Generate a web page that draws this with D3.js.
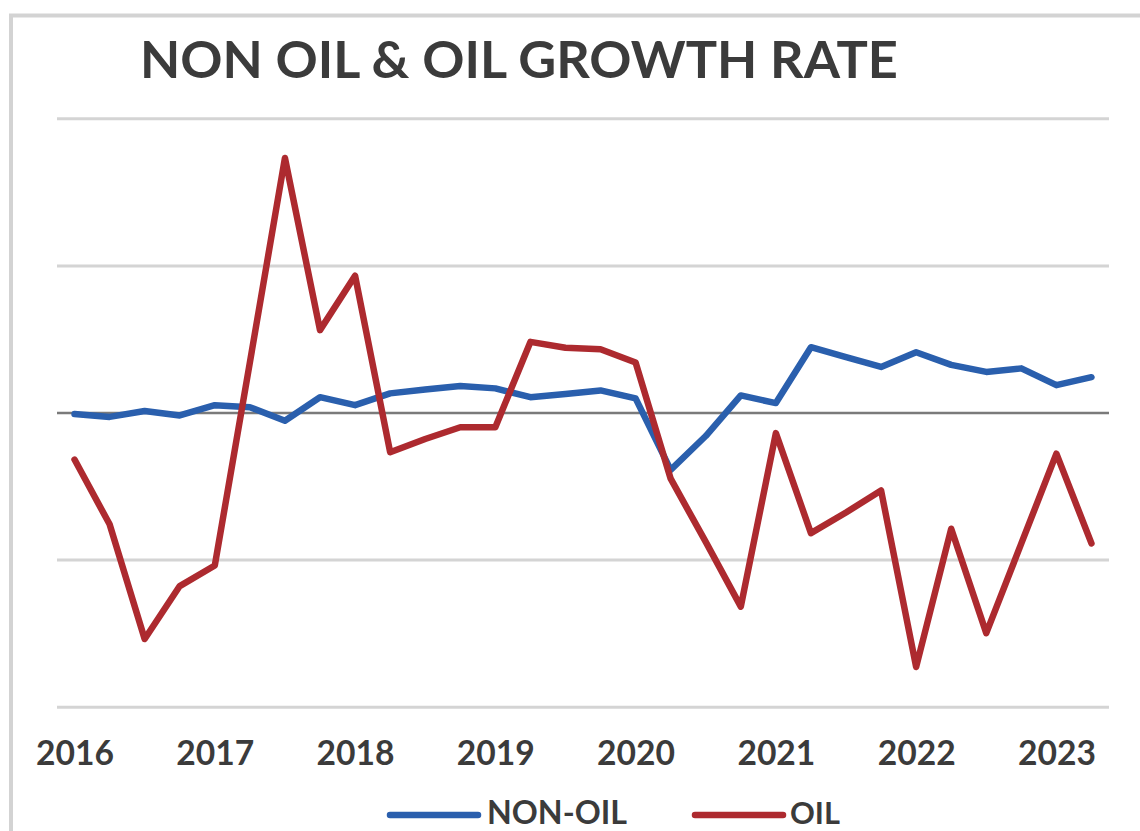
<!DOCTYPE html>
<html>
<head>
<meta charset="utf-8">
<script src="https://cdn.jsdelivr.net/npm/d3@7"></script>
<style>
  html, body { margin: 0; padding: 0; background: #ffffff; }
  svg { display: block; }
</style>
</head>
<body>
<svg id="chart" width="1140" height="831"></svg>
<script>
// Quarterly periods, 2016 Q1 to 2023 Q2
const quarters = [
  "2016Q1","2016Q2","2016Q3","2016Q4",
  "2017Q1","2017Q2","2017Q3","2017Q4",
  "2018Q1","2018Q2","2018Q3","2018Q4",
  "2019Q1","2019Q2","2019Q3","2019Q4",
  "2020Q1","2020Q2","2020Q3","2020Q4",
  "2021Q1","2021Q2","2021Q3","2021Q4",
  "2022Q1","2022Q2","2022Q3","2022Q4",
  "2023Q1","2023Q2"
];

// Year-on-year growth, %
const nonOil = [
  -0.05, -0.15, 0.05, -0.10,
   0.25,  0.18, -0.28, 0.52,
   0.25,  0.65,  0.78, 0.90,
   0.82,  0.52,  0.63, 0.75,
   0.48, -1.95, -0.80, 0.58,
   0.32,  2.22,  1.88, 1.55,
   2.05,  1.62,  1.38, 1.50,
   0.93,  1.20
];

const oil = [
  -1.60, -3.80, -7.70, -5.90,
  -5.20,  1.70,  8.65,  2.80,
   4.65, -1.35, -0.90, -0.50,
  -0.50,  2.40,  2.20,  2.15,
   1.70, -2.25, -4.40, -6.60,
  -0.70, -4.10, -3.40, -2.65,
  -8.65, -3.95, -7.50, -4.45,
  -1.40, -4.45
];

const yearLabels = ["2016","2017","2018","2019","2020","2021","2022","2023"];
const gridValues = [-10, -5, 0, 5, 10];

const seriesNames = ["NON-OIL", "OIL"];
const seriesColors = ["#2a5fad", "#ad2a2f"];

const svg = d3.select("#chart");
const W = 1140, H = 831;
const plot = { left: 57, right: 1109, top: 118.3, bottom: 706.7 };
const textColor = "#3b3b3b";
const fontFamily = "Lato, 'Open Sans', sans-serif";

// Fit a text element's font size so its rendered width equals targetWidth
function fitWidth(sel, targetWidth) {
  const node = sel.node();
  const size = parseFloat(sel.attr("font-size"));
  const w = node.getComputedTextLength();
  sel.attr("font-size", size * targetWidth / w);
}

svg.append("rect").attr("width", W).attr("height", H).attr("fill", "#ffffff");

// Chart frame
svg.append("path")
  .attr("d", `M11,${H} L11,15.5 L${W},15.5`)
  .attr("fill", "none")
  .attr("stroke", "#d3d3d3")
  .attr("stroke-width", 4);

// Title
const title = svg.append("text")
  .attr("x", 140).attr("y", 78)
  .attr("font-family", fontFamily)
  .attr("font-weight", 700)
  .attr("font-size", 50)
  .attr("fill", textColor)
  .text("NON OIL & OIL GROWTH RATE");
fitWidth(title, 758);

// Scales
const x = d3.scalePoint()
  .domain(quarters)
  .range([plot.left, plot.right])
  .padding(0.5);

const y = d3.scaleLinear()
  .domain([-10, 10])
  .range([plot.bottom, plot.top]);

// Horizontal gridlines
const grid = svg.append("g")
  .attr("transform", `translate(${plot.left},0)`)
  .call(d3.axisLeft(y)
    .tickValues(gridValues)
    .tickSize(-(plot.right - plot.left))
    .tickFormat(""));
grid.select(".domain").remove();
grid.selectAll(".tick line")
  .attr("stroke", d => d === 0 ? "#7a7a7a" : "#d4d4d4")
  .attr("stroke-width", d => d === 0 ? 2.5 : 3);

// Category axis: one label per year at the first quarter
const xAxis = svg.append("g")
  .attr("transform", `translate(0,${plot.bottom})`)
  .call(d3.axisBottom(x)
    .tickValues(quarters.filter(q => q.endsWith("Q1")))
    .tickSize(0)
    .tickPadding(0)
    .tickFormat(q => yearLabels[yearLabels.indexOf(q.slice(0, 4))]));
xAxis.select(".domain").remove();
xAxis.selectAll(".tick text")
  .attr("y", 58)
  .attr("dy", null)
  .attr("font-family", fontFamily)
  .attr("font-weight", 700)
  .attr("font-size", 34)
  .attr("fill", textColor);
xAxis.selectAll(".tick text").each(function() { fitWidth(d3.select(this), 78); });

// Series lines
const line = d3.line()
  .x((d, i) => x(quarters[i]))
  .y(d => y(d));

[nonOil, oil].forEach((values, k) => {
  svg.append("path")
    .datum(values)
    .attr("fill", "none")
    .attr("stroke", seriesColors[k])
    .attr("stroke-width", 6.5)
    .attr("stroke-linejoin", "round")
    .attr("stroke-linecap", "round")
    .attr("d", line);
});

// Legend
const legendItems = [
  { name: seriesNames[0], color: seriesColors[0], x0: 390, x1: 478, tx: 487, tw: 140 },
  { name: seriesNames[1], color: seriesColors[1], x0: 695, x1: 783, tx: 790, tw: 50 }
];
const legend = svg.append("g");
legendItems.forEach(it => {
  legend.append("line")
    .attr("x1", it.x0).attr("x2", it.x1)
    .attr("y1", 815).attr("y2", 815)
    .attr("stroke", it.color)
    .attr("stroke-width", 6.5)
    .attr("stroke-linecap", "round");
  const t = legend.append("text")
    .attr("x", it.tx).attr("y", 824)
    .attr("font-family", fontFamily)
    .attr("font-weight", 700)
    .attr("font-size", 32)
    .attr("fill", textColor)
    .text(it.name);
  fitWidth(t, it.tw);
});
</script>
</body>
</html>
